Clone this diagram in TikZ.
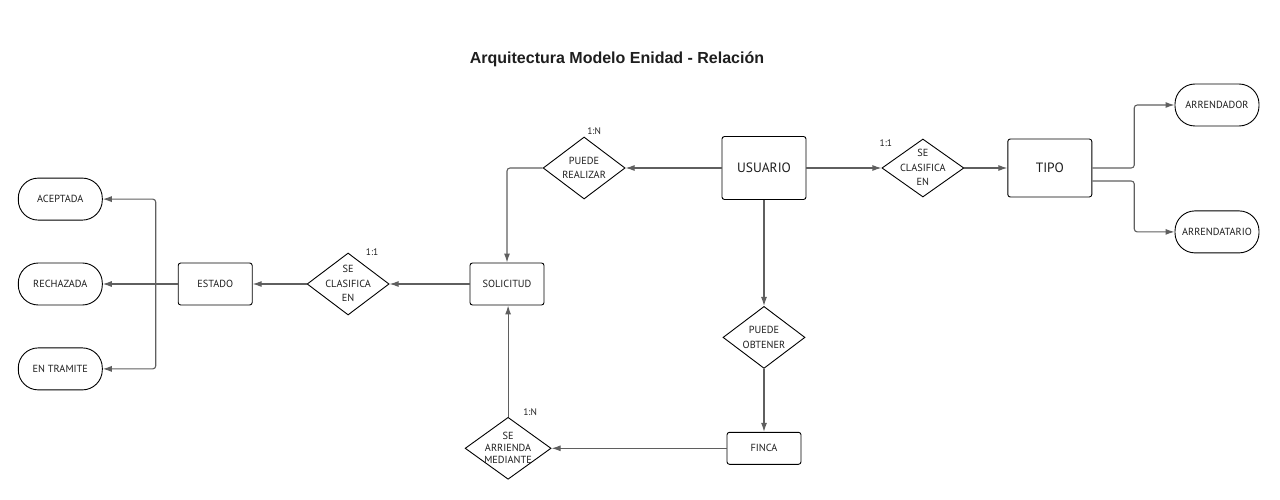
\documentclass[tikz,border=0pt]{standalone}
\usepackage{fontspec}
\setmainfont{Liberation Sans}
\newfontfamily\handfont{PT Sans}
\usetikzlibrary{shapes.geometric, positioning, arrows.meta}
\definecolor{linegray}{HTML}{5F5F5F}
\definecolor{textgray}{HTML}{1E1E1E}
\newcommand{\rtext}[1]{\makebox[0pt]{\smash{\raisebox{-3pt}{\begin{tabular}{@{}c@{}}#1\end{tabular}}}}}

\begin{document}
\begin{tikzpicture}[
			x=1pt, y=-1pt,
			nodes = {
				align = center,
				text = textgray
			},
			entity/.style={
				draw=black,
				fill=white,
				rectangle,
				rounded corners=2.5pt,
				line width=0.9pt,
				font=\handfont\fontsize{10.3}{14.5}\selectfont
			},
			bigentity/.style={
				entity,
				minimum width=84pt,
				font=\handfont\fontsize{13.5}{16}\selectfont
			},
			relation/.style={
				draw=black,
				fill=white,
				diamond,
				inner sep=0pt,
				line width=0.9pt,
				minimum width=82pt,
				minimum height=62pt,
				font=\handfont\fontsize{10.3}{14.5}\selectfont
			},
			state/.style={
				draw=black,
				fill=white,
				rectangle,
				rounded corners=20pt,
				minimum width=84pt,
				minimum height=42pt,
				line width=0.9pt,
				font=\handfont\fontsize{10.3}{14.5}\selectfont
			},
			card/.style={
				font=\handfont\fontsize{9.5}{10}\selectfont
			},
			lines/.style={
				draw=linegray,
				line width=1.1pt,
				rounded corners=3pt,
				>={Latex[length=9pt,width=6pt]}
			}
		]
			\useasboundingbox (0,0) rectangle (1280,500);

			\node[font=\bfseries\fontsize{16}{19}\selectfont] (title) at (617,59) {Arquitectura Modelo Enidad - Relación};

			\node[bigentity, minimum height=63pt] (usuario) at (764,168) {USUARIO};
			\node[relation] (realizar) [left=96pt of usuario] {\rtext{PUEDE\\REALIZAR}};
			\node[relation, minimum height=58pt] (rclasif) [right=75pt of usuario] {\rtext{SE\\CLASIFICA\\EN}};
			\node[bigentity, minimum height=58pt] (tipo) [right=43pt of rclasif] {TIPO};

			\node[state] (arrendador) at (1217,105) {ARRENDADOR};
			\node[state] (arrendatario) [below=84pt of arrendador] {ARRENDATARIO};

			\node[relation] (obtener) [below=106pt of usuario] {\rtext{PUEDE\\OBTENER}};
			\node[entity, minimum width=74pt, minimum height=32pt] (finca) [below=63pt of obtener] {FINCA};
			\node[relation, minimum width=86pt, font=\handfont\fontsize{10.3}{12}\selectfont] (arriendo) [left=175pt of finca] {\rtext{SE\\ARRIENDA\\MEDIANTE}};

			\node[entity, minimum width=74pt, minimum height=42pt] (solicitud) at (507,284) {SOLICITUD};
			\node[relation] (lclasif) [left=80pt of solicitud] {\rtext{SE\\CLASIFICA\\EN}};
			\node[entity, minimum width=74pt, minimum height=42pt] (estado) [left=54pt of lclasif] {ESTADO};

			\node[state] (rechazada) [left=75pt of estado] {RECHAZADA};
			\node[state] (aceptada) [above=42pt of rechazada] {ACEPTADA};
			\node[state] (tramite) [below=42pt of rechazada] {EN TRAMITE};

			\node[card] (cardrealizar) at ([xshift=10pt,yshift=5pt]realizar.north) {1:N};
			\node[card] (cardrclasif) at ([xshift=-37pt,yshift=-5pt]rclasif.north) {1:1};
			\node[card] (cardlclasif) at ([xshift=24pt]lclasif.north) {1:1};
			\node[card] (cardarriendo) at ([xshift=22pt,yshift=5pt]arriendo.north) {1:N};

			\coordinate (hub) at ([xshift=-22pt]estado.west);

			\draw[lines,->] (usuario) -- (realizar);
			\draw[lines,->] (realizar) -| (solicitud);

			\draw[lines,->] (usuario) -- (rclasif);
			\draw[lines,->] (rclasif) -- (tipo);
			\draw[lines,->] (tipo.east) -- ++(42,0) |- (arrendador);
			\draw[lines,->] ([yshift=-13pt]tipo.east) -- ++(42,0) |- (arrendatario);

			\draw[lines,->] (usuario) -- (obtener);
			\draw[lines,->] (obtener) -- (finca);
			\draw[lines,->] (finca) -- (arriendo);
			\draw[lines,->] (arriendo) -- (arriendo |- solicitud.south);

			\draw[lines,->] (solicitud) -- (lclasif);
			\draw[lines,->] (lclasif) -- (estado);
			\draw[lines,->] (estado) -- (rechazada);
			\draw[lines,->] (hub) |- (aceptada);
			\draw[lines,->] (hub) |- (tramite);

		\end{tikzpicture}
\end{document}
